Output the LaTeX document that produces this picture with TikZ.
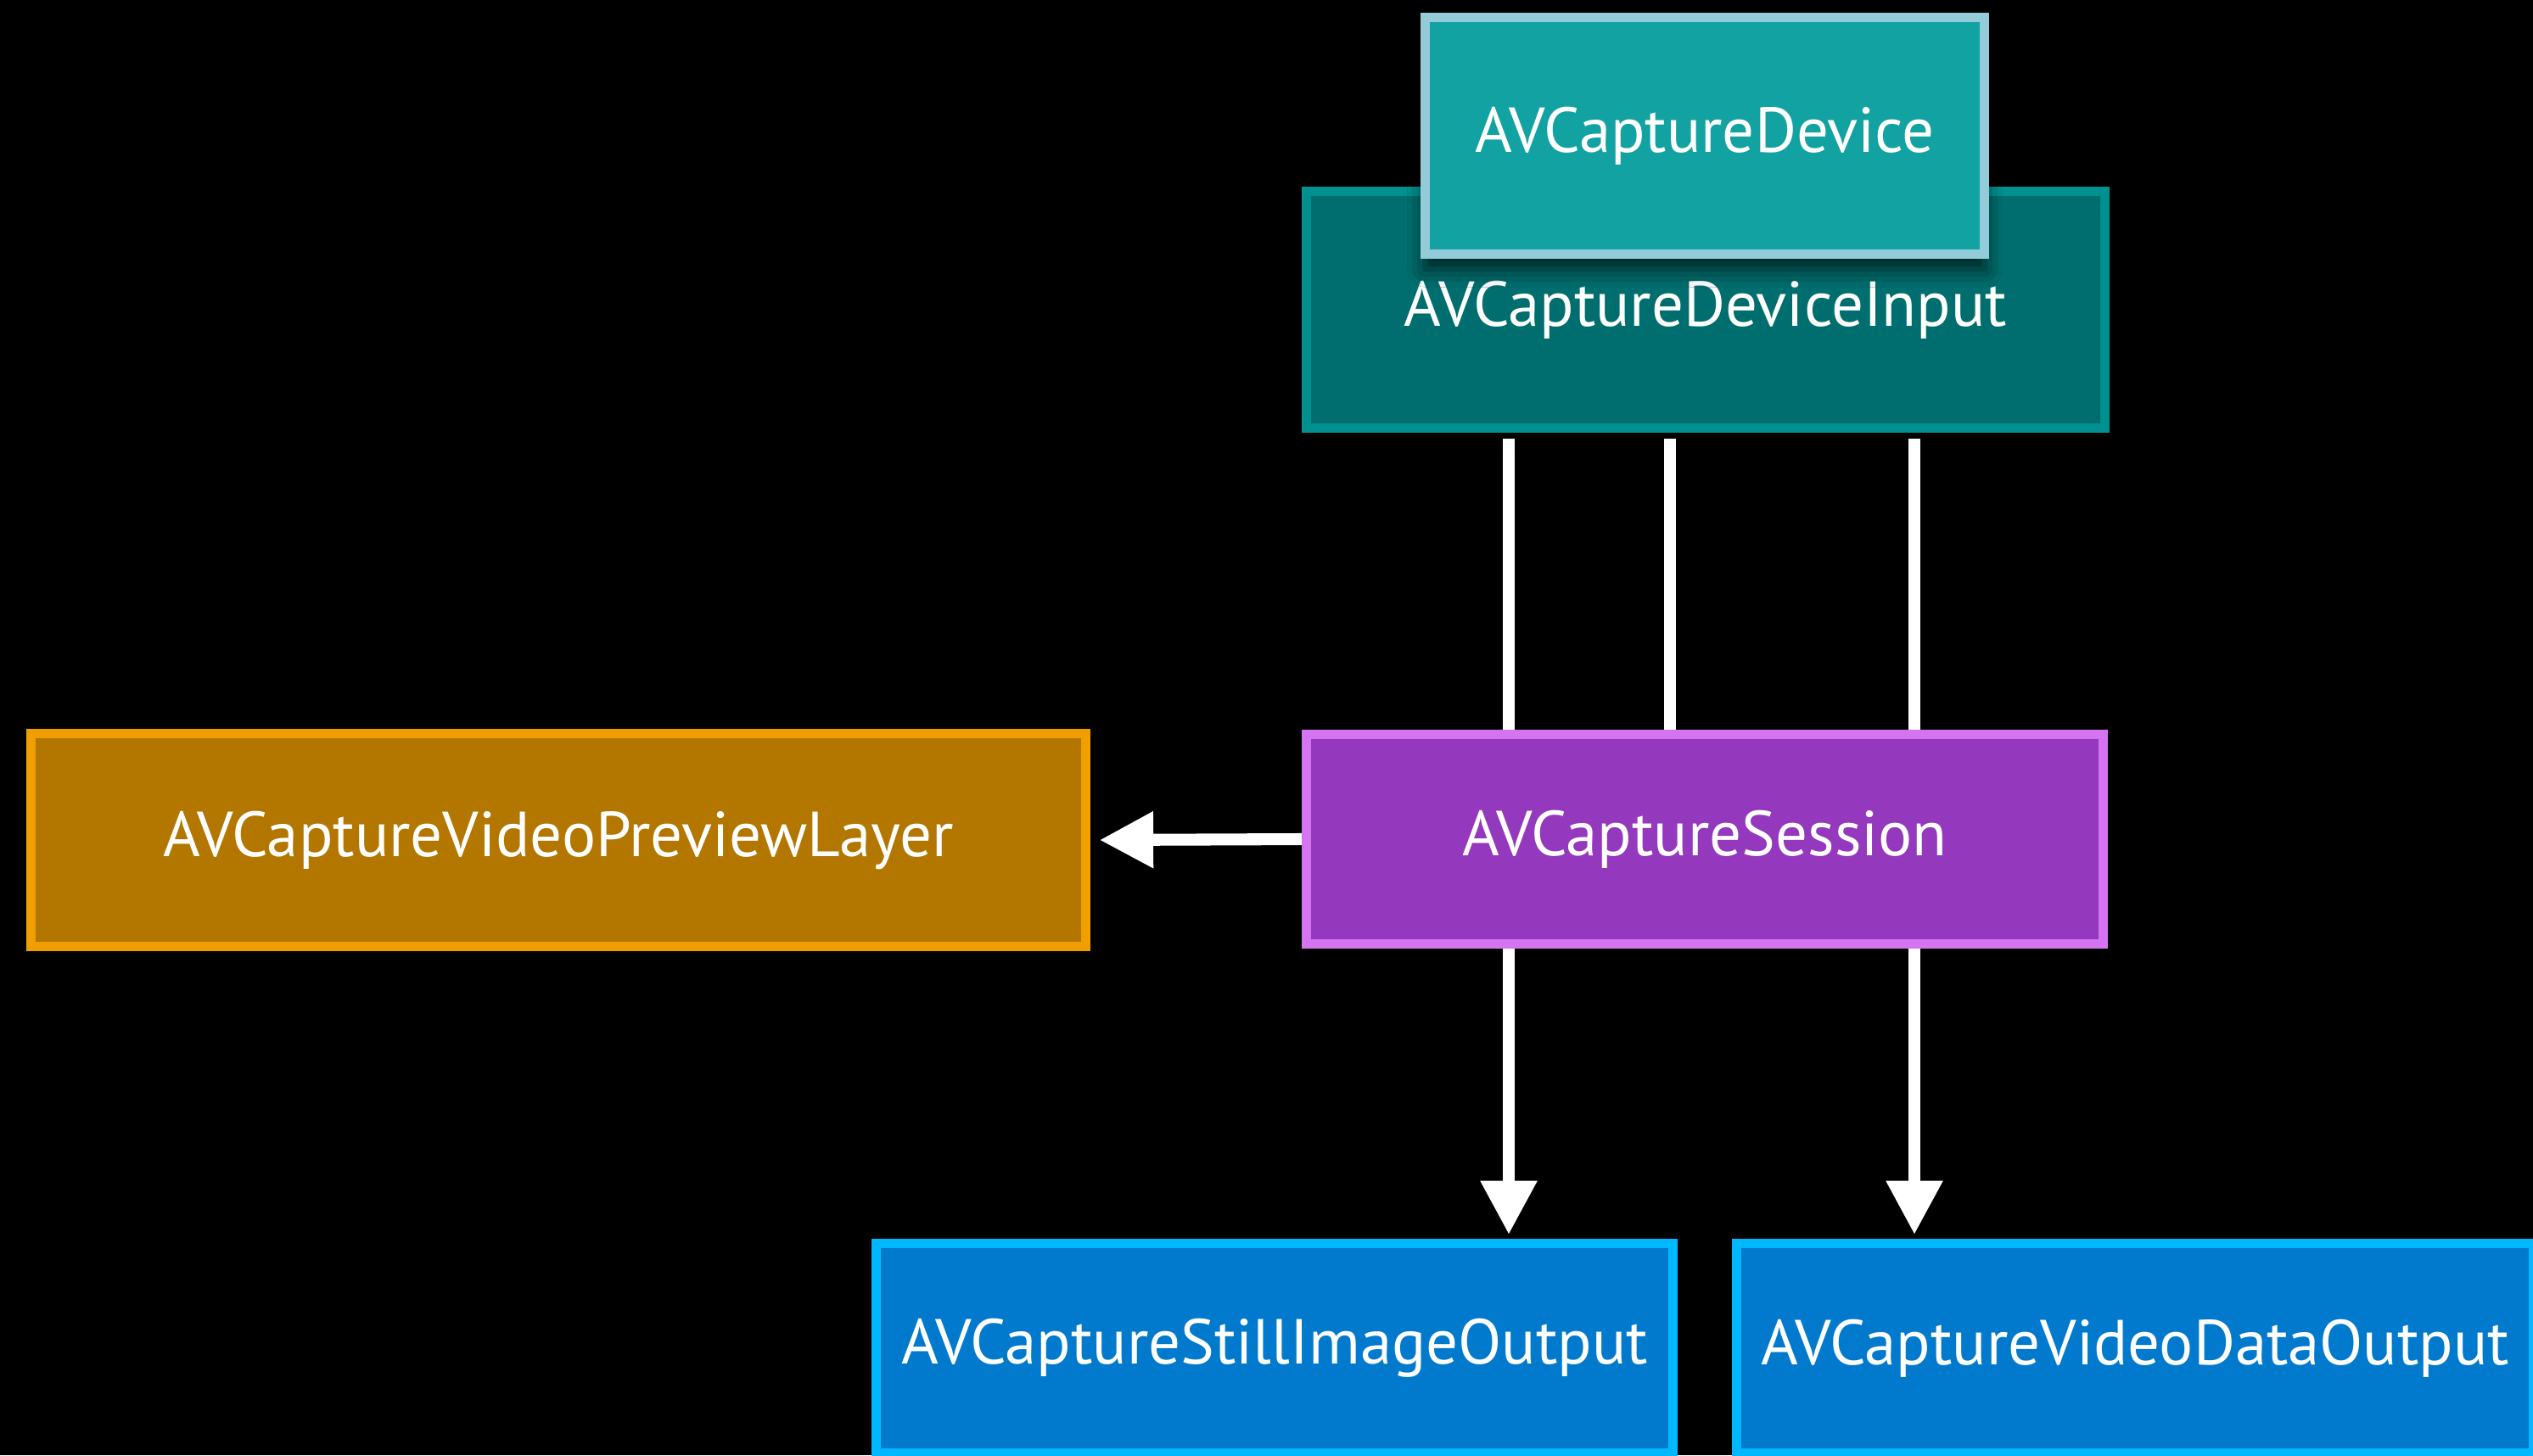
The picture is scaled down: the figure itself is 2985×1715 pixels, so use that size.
\documentclass[tikz,border=0pt]{standalone}
\usepackage{fontspec}
\setmainfont{PT Sans}
\usetikzlibrary{arrows.meta,calc,shadows.blur}
\definecolor{devfill}{RGB}{18,162,162}\definecolor{devline}{RGB}{147,204,216}
\definecolor{infill}{RGB}{0,110,110}\definecolor{inline}{RGB}{0,144,144}
\definecolor{prefill}{RGB}{179,119,0}\definecolor{preline}{RGB}{239,160,0}
\definecolor{sesfill}{RGB}{148,57,190}\definecolor{sesline}{RGB}{212,116,240}
\definecolor{outfill}{RGB}{1,122,205}\definecolor{outline}{RGB}{0,184,255}
\tikzset{
  box/.style={draw,line width=3.1pt,text=white,inner sep=0pt,font=\fontsize{21.3}{25}\selectfont},
  link/.style={draw=white,line width=4pt},
  flow/.style={link,-{Triangle[length=18pt,width=18pt]}}
}

\begin{document}
\begin{tikzpicture}[x=.01cm,y=-.01cm]
      \useasboundingbox(0,0)rectangle(2985,1715);
      \fill[black](0,0)rectangle(2985,1715);

      % input with the device laid over it
      \node[box,fill=infill,draw=inline,minimum width=9.41cm,minimum height=2.79cm](input)at(2010,365){AVCaptureDeviceInput};
      \node[box,fill=devfill,draw=devline,minimum width=6.59cm,minimum height=2.79cm,
            blur shadow={shadow xshift=0pt,shadow yshift=-5pt,shadow blur radius=6pt,shadow opacity=70}](device)at(2009,160){AVCaptureDevice};

      \node[box,fill=sesfill,draw=sesline,minimum width=9.39cm,minimum height=2.47cm](session)at(2009,989){AVCaptureSession};
      \node[box,fill=prefill,draw=preline,minimum width=12.42cm,minimum height=2.50cm](preview)at(658,990){AVCaptureVideoPreviewLayer};

      \node[box,fill=outfill,draw=outline,minimum width=9.38cm,minimum height=2.47cm](still)at(1502,1589){AVCaptureStillImageOutput};
      \node[box,fill=outfill,draw=outline,minimum width=9.39cm,minimum height=2.47cm](video)at(2516,1589){AVCaptureVideoDataOutput};

      \coordinate(a)at(1778,0);\coordinate(b)at(1968,0);\coordinate(c)at(2256,0);
      \foreach \p in{a,b,c}{
        \draw[link]($(input.south -| \p)+(0,7)$)--(session.north -| \p);
      }
      \foreach \p/\q in{a/still,c/video}{
        \draw[flow](session.south -| \p)--($(\q.north -| \p)+(0,-5)$);
      }
      \draw[flow](session.west)--($(preview.east)+(11,0)$);
\end{tikzpicture}
\end{document}
